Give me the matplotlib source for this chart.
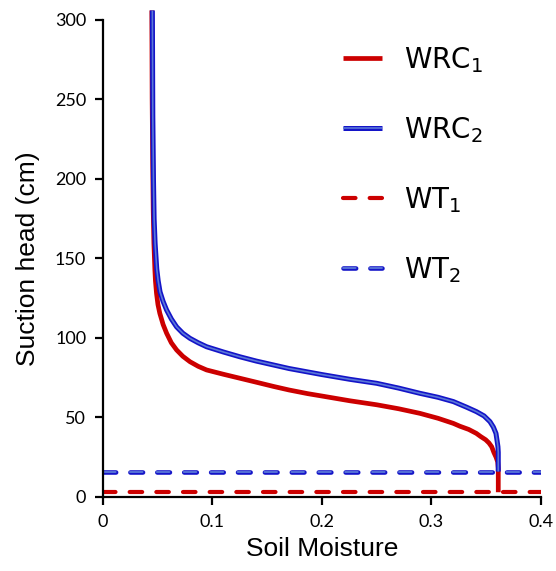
import matplotlib
matplotlib.use("Agg")
import matplotlib.pyplot as plt
import matplotlib.patheffects as pe

# water retention curves (soil moisture vs suction head, cm)
wrc1_theta = [0.3610, 0.3610, 0.3605, 0.3590, 0.3570, 0.3550, 0.3525, 0.3495, 0.3450,
              0.3410, 0.3340, 0.3260, 0.3200, 0.3060, 0.2895, 0.2700, 0.2500, 0.2256,
              0.2000, 0.1870, 0.1700, 0.1560, 0.1400, 0.1250, 0.1100, 0.0947, 0.0870,
              0.0795, 0.0730, 0.0673, 0.0625, 0.0582, 0.0550, 0.0520, 0.0503, 0.0490,
              0.0480, 0.0475, 0.0466, 0.0460, 0.0455, 0.0450, 0.0447]
wrc1_head = [3, 18, 22, 25, 28, 31.6, 34, 36, 38,
             40, 42.5, 44.5, 46.3, 49.5, 52.6, 55.5, 58, 60.5,
             63.5, 65, 67.3, 69.5, 72.2, 74.7, 77.2, 79.9, 82.2,
             85.1, 88.5, 92.5, 97, 103, 108.5, 115.5, 121, 128,
             136, 142.8, 159.5, 180, 210, 250, 306]

wrc2_theta = [0.3610, 0.3610, 0.3607, 0.3600, 0.3589, 0.3565, 0.3534, 0.3480, 0.3410,
              0.3320, 0.3200, 0.3060, 0.2895, 0.2700, 0.2500, 0.2256, 0.2000, 0.1700,
              0.1400, 0.1250, 0.1100, 0.0947, 0.0870, 0.0795, 0.0730, 0.0673, 0.0625,
              0.0582, 0.0550, 0.0522, 0.0505, 0.0492, 0.0477, 0.0468, 0.0462, 0.0456,
              0.0452]
wrc2_head = [16, 28, 31.6, 35, 40, 44, 47.4, 51, 53.7,
             56.5, 60, 62.7, 65.2, 68.5, 71.5, 74, 77, 80.8,
             85.5, 88.2, 91.2, 94.5, 97, 99.8, 103, 107, 112,
             117.6, 123, 129, 136, 143.5, 159.5, 175, 200, 240,
             306]

wt1 = 3
wt2 = 16
x_range = [0, 0.4]

red = '#cc0000'
blue_edge = '#1414c8'
blue_fill = '#5a78d8'

plt.rcParams['mathtext.fontset'] = 'custom'
plt.rcParams['mathtext.rm'] = 'Liberation Sans'
plt.rcParams['mathtext.it'] = 'Liberation Sans:italic'

fig = plt.figure(figsize=(5.56, 5.71), dpi=100)
ax = fig.add_axes([0.185, 0.1296, 0.788, 0.8354])

ax.plot(x_range, [wt1, wt1], color=red, label=r'$\mathregular{WT_1}$', zorder=2,
        dashes=(3, 3.4), dash_capstyle='round', lw=3)
ax.plot(x_range, [wt2, wt2], color=blue_fill, label=r'$\mathregular{WT_2}$', zorder=2,
        path_effects=[pe.Stroke(linewidth=3.3, foreground=blue_edge, capstyle='round'), pe.Normal()],
        dashes=(7, 7.9), dash_capstyle='round', lw=1.3)

ax.plot(wrc1_theta, wrc1_head, color=red, lw=3.4, label=r'$\mathregular{WRC_1}$',
        zorder=3, clip_on=False, solid_capstyle='butt', solid_joinstyle='round')
ax.plot(wrc2_theta, wrc2_head, color=blue_fill, lw=1.2, label=r'$\mathregular{WRC_2}$',
        zorder=4, clip_on=False, solid_capstyle='butt', solid_joinstyle='round',
        path_effects=[pe.Stroke(linewidth=3.6, foreground=blue_edge), pe.Normal()])

ax.set_xlim(0, 0.4)
ax.set_ylim(0, 300)
ax.set_xticks([0, 0.1, 0.2, 0.3, 0.4])
ax.set_xticklabels(['0', '0.1', '0.2', '0.3', '0.4'])
ax.set_yticks([0, 50, 100, 150, 200, 250, 300])
for s in ['top', 'right']:
    ax.spines[s].set_visible(False)
for s in ['left', 'bottom']:
    ax.spines[s].set_linewidth(1.6)
ax.tick_params(direction='out', length=6, width=1.6, labelsize=13, pad=6)
for lbl in ax.get_xticklabels() + ax.get_yticklabels():
    lbl.set_fontfamily('Lato')

ax.set_xlabel('Soil Moisture', fontsize=19, family='Liberation Sans', labelpad=5)
ax.set_ylabel('Suction head (cm)', fontsize=19, family='Liberation Sans', labelpad=11)

h, l = ax.get_legend_handles_labels()
order = [2, 3, 0, 1]
ax.legend([h[i] for i in order], [l[i] for i in order], loc='upper right',
          frameon=False, fontsize=20, handlelength=1.4, handletextpad=0.8,
          labelspacing=1.45, bbox_to_anchor=(0.925, 1.0))

fig.savefig('out.png', dpi=100)
